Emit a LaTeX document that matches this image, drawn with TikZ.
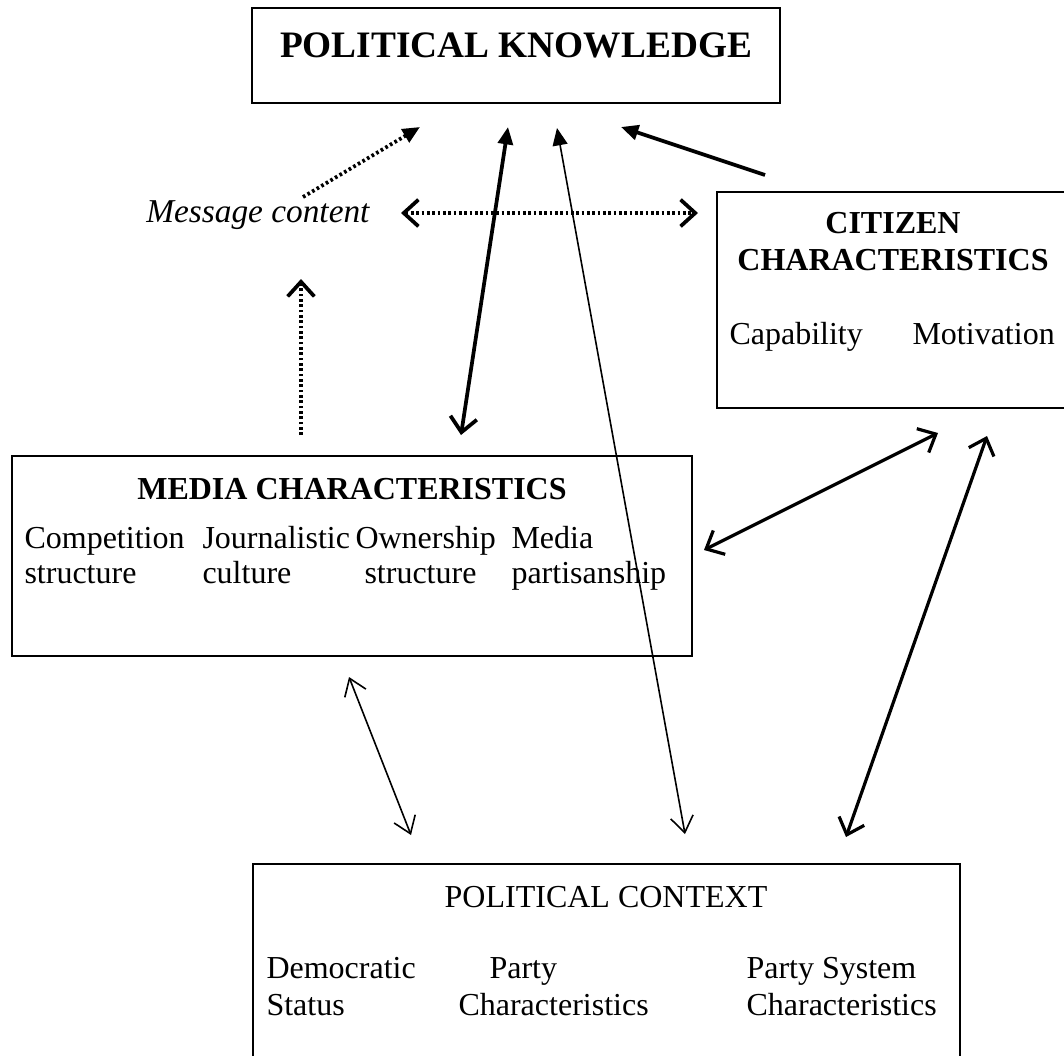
\documentclass[tikz,border=0pt]{standalone}
\usepackage{fontspec}
\setmainfont{Liberation Serif}
\usetikzlibrary{arrows.meta}

\begin{document}
\begin{tikzpicture}[x=0.375pt, y=-0.375pt,
  box/.style={draw, line width=0.8pt, inner sep=0pt, rectangle},
  txt/.style={inner sep=0pt, font=\fontsize{12}{14}\selectfont},
  bold/.style={inner sep=0pt, font=\fontsize{12}{14}\selectfont\bfseries},
  dots/.style={line width=1.4pt, dash pattern=on 1pt off 1pt},
  heavy/.style={line width=1.4pt},
  medium/.style={line width=1.2pt},
  light/.style={line width=0.6pt},
  fh/.tip={Triangle[length=6.5pt,width=5.6pt]},
  oh/.tip={Straight Barb[length=5.5pt,width=10pt]},
  ohs/.tip={Straight Barb[length=6pt,width=8.5pt]},
]
\useasboundingbox (0,0) rectangle (1064,1055);

% boxes
\node[box, minimum width=198pt, minimum height=35.6pt] (pk) at (516,55.5) {};
\node[box, minimum width=132pt, minimum height=81pt] (cc) at (893,300) {};
\node[box, minimum width=255pt, minimum height=75pt] (mc) at (352,556) {};
\node[box, minimum width=265.1pt, minimum height=81pt] (pc) at (606.5,972) {};

% POLITICAL KNOWLEDGE
\node[inner sep=0pt, anchor=base, font=\fontsize{14}{17}\selectfont\bfseries] (pkt) at (516,57) {POLITICAL KNOWLEDGE};

% CITIZEN CHARACTERISTICS
\node[bold, anchor=base] (cct1) at (893,233) {CITIZEN};
\node[bold, anchor=base] (cct2) at (893,270) {CHARACTERISTICS};
\node[txt, anchor=base west] (cap) at (729,344) {Capability};
\node[txt, anchor=base west] (mot) at (912,344) {Motivation};

% MEDIA CHARACTERISTICS
\node[bold, anchor=base] (mct) at (352,499) {MEDIA CHARACTERISTICS};
\node[txt, anchor=base west] (m1a) at (24,548) {Competition};
\node[txt, anchor=base west] (m1b) at (24,583) {structure};
\node[txt, anchor=base west] (m2a) at (202,548) {Journalistic};
\node[txt, anchor=base west] (m2b) at (202,583) {culture};
\node[txt, anchor=base west] (m3a) at (355,548) {Ownership};
\node[txt, anchor=base west] (m3b) at (364,583) {structure};
\node[txt, anchor=base west] (m4a) at (511,548) {Media};
\node[txt, anchor=base west] (m4b) at (511,583) {partisanship};

% POLITICAL CONTEXT
\node[txt, anchor=base] (pct) at (606,907) {POLITICAL CONTEXT};
\node[txt, anchor=base west] (p1a) at (266,978) {Democratic};
\node[txt, anchor=base west] (p1b) at (266,1015) {Status};
\node[txt, anchor=base west] (p2a) at (489,978) {Party};
\node[txt, anchor=base west] (p2b) at (458,1015) {Characteristics};
\node[txt, anchor=base west] (p3a) at (746,978) {Party System};
\node[txt, anchor=base west] (p3b) at (746,1015) {Characteristics};

% Message content
\node[inner sep=0pt, anchor=base east, font=\fontsize{12.5}{14}\selectfont\itshape] (msg) at (370,222) {Message content};

% arrow end points
\coordinate (k1) at (420,127);
\coordinate (k2) at (508,127);
\coordinate (k3) at (557,128);
\coordinate (k4) at (621,127);
\coordinate (ms) at (303,197);
\coordinate (ml) at (401,213);
\coordinate (mr) at (698,213);
\coordinate (mu) at (301,279);
\coordinate (md) at (301,435);
\coordinate (cs) at (765,175);
\coordinate (mt) at (461,435);
\coordinate (ctl) at (685,834);
\coordinate (mcr) at (704,550);
\coordinate (ccl) at (938,433);
\coordinate (ccr) at (987,436);
\coordinate (ctr) at (846,837);
\coordinate (mcb) at (349,677);
\coordinate (ctm) at (411,835);

% connectors
\draw[dots, -fh] (ms) -- (k1);
\draw[dots, oh-oh] (ml) -- (mr);
\draw[dots, -oh] (md) -- (mu);
\draw[heavy, oh-fh] (mt) -- (k2);
\draw[light, fh-ohs] (k3) -- (ctl);
\draw[heavy, -fh] (cs) -- (k4);
\draw[medium, oh-oh] (mcr) -- (ccl);
\draw[medium, oh-oh] (ccr) -- (ctr);
\draw[light, ohs-ohs] (mcb) -- (ctm);

\end{tikzpicture}
\end{document}
